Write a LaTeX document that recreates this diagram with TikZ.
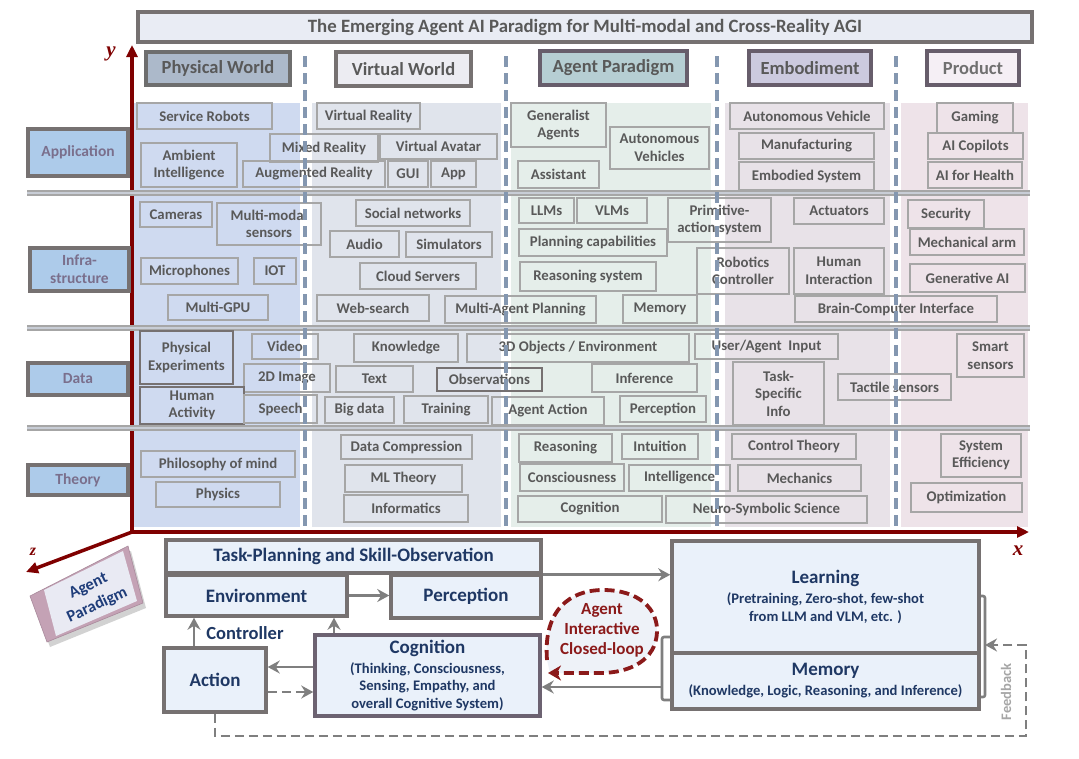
\documentclass[tikz,border=0pt]{standalone}
\usepackage{fontspec}
\setmainfont{Carlito}
\newfontfamily\axfont{Liberation Serif}
\usetikzlibrary{arrows.meta,shadows}
\definecolor{cAxis}{HTML}{7F0000}
\definecolor{titleFill}{HTML}{E9ECF4}
\definecolor{titleBorder}{HTML}{767171}
\definecolor{txtgray}{HTML}{595959}
\definecolor{itmgray}{HTML}{A6A6A6}
\definecolor{itmdark}{HTML}{767171}
\definecolor{pPhys}{HTML}{CFDAF0}
\definecolor{pVirt}{HTML}{E0E4EC}
\definecolor{pAgent}{HTML}{E5EEEA}
\definecolor{pEmb}{HTML}{E8E2E8}
\definecolor{pProd}{HTML}{EEE3E9}
\definecolor{hPhys}{HTML}{ACB9CA}
\definecolor{hVirt}{HTML}{ECECF2}
\definecolor{hAgent}{HTML}{B6CED3}
\definecolor{hEmb}{HTML}{CCCADF}
\definecolor{hProd}{HTML}{F5EFF5}
\definecolor{hBorderA}{HTML}{6E6E6E}
\definecolor{hBorderB}{HTML}{767171}
\definecolor{hBorderC}{HTML}{675D6B}
\definecolor{prodText}{HTML}{707070}
\definecolor{dashBlue}{HTML}{8497B0}
\definecolor{rowFill}{HTML}{ADCBEA}
\definecolor{rowBorder}{HTML}{767171}
\definecolor{rowText}{HTML}{7A6F8C}
\definecolor{sepGray}{HTML}{A6A6A6}
\definecolor{sepLight}{HTML}{C8CDD6}
\definecolor{fbFill}{HTML}{EAF1FA}
\definecolor{fbText}{HTML}{1F3864}
\definecolor{fbBorder}{HTML}{767171}
\definecolor{cogBorder}{HTML}{6C6271}
\definecolor{arrGray}{HTML}{7F7F7F}
\definecolor{fbGray}{HTML}{A6A6A6}
\definecolor{loopRed}{HTML}{8B1A1A}
\definecolor{loopFill}{HTML}{EEF2F8}
\definecolor{blockMauve}{HTML}{C4A2B5}
\definecolor{blockFace}{HTML}{E9EAF3}
\definecolor{blockEdge}{HTML}{A98A9C}
\definecolor{blockText}{HTML}{1F3D7A}
\newcommand\ib[7][]{\node[itm,#1,minimum width={(#5)-(#3)},minimum height={(#6)-(#4)}] (#2) at ({((#3)+(#5))/2},{((#4)+(#6))/2}) {#7};}
\newcommand\subf{\fontsize{14.6}{17.5}\selectfont}
\begin{document}
\begin{tikzpicture}[x=1pt,y=-1pt,
 itm/.style={draw=itmgray, line width=1.1pt, inner sep=0pt, align=center, text=txtgray, font=\bfseries\fontsize{14.8}{17.5}\selectfont},
 itmk/.style={draw=itmdark, line width=2.2pt},
 rowlab/.style={fill=rowFill, draw=rowBorder, line width=3.5pt, text=rowText, font=\bfseries\fontsize{15.5}{18}\selectfont},
 colhead/.style={line width=3.5pt, text=txtgray, font=\bfseries\fontsize{18.5}{20}\selectfont},
 titlebox/.style={fill=titleFill, draw=titleBorder, line width=3.5pt, text=txtgray, font=\bfseries\fontsize{18.8}{20}\selectfont},
 fb/.style={fill=fbFill, draw=fbBorder, line width=3.5pt, text=fbText, font=\bfseries\fontsize{19}{17.5}\selectfont},
 arr/.style={draw=arrGray, line width=2.6pt, -{Stealth[length=12pt,width=13pt,inset=4pt]}},
 brk/.style={draw=arrGray, line width=2.6pt, rounded corners=2pt},
 dsh/.style={dash pattern=on 9pt off 5pt},
 axis/.style={draw=cAxis, line width=4pt},
 axlab/.style={text=cAxis, font=\axfont\bfseries\itshape\fontsize{21}{21}\selectfont, inner sep=0pt},
 rowsep/.style={draw=sepGray, line width=2pt, double=sepLight, double distance=1.3pt},
 coldash/.style={draw=dashBlue, line width=4pt, dash pattern=on 11pt off 6pt},
 loopline/.style={draw=loopRed, line width=3.8pt, dash pattern=on 10pt off 5pt},
 looptext/.style={text=loopRed, font=\bfseries\fontsize{17}{20}\selectfont, align=center},
 ctrl/.style={text=fbText, font=\bfseries\fontsize{18.5}{20}\selectfont},
 fblab/.style={text=fbGray, font=\bfseries\fontsize{14.5}{16}\selectfont, rotate=90}]
\useasboundingbox (0,0) rectangle (1079,758);
\fill[white] (0,0) rectangle (1079,758);
% column panels
\fill[pPhys] (134,103) rectangle (300,527);
\fill[pVirt] (312,103) rectangle (501,527);
\fill[pAgent] (511,103) rectangle (711,527);
\fill[pEmb] (725,103) rectangle (890,527);
\fill[pProd] (901,103) rectangle (1028,527);
% title and headers
\ib[titlebox]{title}{138}{12}{1032}{42}{The Emerging Agent AI Paradigm for Multi-modal and Cross-Reality AGI}
\ib[colhead,fill=hPhys,draw=hBorderA]{hphys}{146}{52}{290}{85}{Physical World}
\ib[colhead,fill=hVirt,draw=hBorderB]{hvirt}{336}{52}{471}{86}{Virtual World}
\ib[colhead,fill=hAgent,draw=hBorderC]{hagent}{540}{51}{687}{85}{Agent Paradigm}
\ib[colhead,fill=hEmb,draw=hBorderC]{hemb}{749}{51}{871}{85}{Embodiment}
\ib[colhead,fill=hProd,draw=hBorderC,text=prodText]{hprod}{927}{51}{1019}{85}{Product}
% axes
\coordinate (org) at (132,532);
\coordinate (ytip) at (132,45);
\coordinate (xtip) at (1029,532);
\coordinate (ztip) at (26,572);
\draw[axis,-{Triangle[length=12pt,width=11pt]}] (org) -- (ytip);
\draw[axis,-{Triangle[length=12pt,width=11pt]}] (org) -- (xtip);
\draw[axis,line width=3.5pt,-{Triangle[length=12pt,width=11pt]}] (org) -- (ztip);
\node[axlab] (ylab) at (111,54) {y};
\node[axlab] (xlab) at (1018,551) {x};
\node[axlab,font=\axfont\bfseries\itshape\fontsize{16}{16}\selectfont] (zlab) at (33,552) {z};
% row separators
\foreach \yy in {193,328,428} \draw[rowsep] (27,\yy) -- (1030,\yy);
% row labels
\ib[rowlab]{rapp}{28}{129}{128}{176}{Application}
\ib[rowlab]{rinf}{30}{248}{129}{291}{Infra-\\structure}
\ib[rowlab]{rdata}{28}{363}{128}{395}{Data}
\ib[rowlab]{rtheory}{28}{465}{128}{495}{Theory}
% application row
\ib{servrob}{137}{103}{272}{129}{Service Robots}
\ib{ambint}{141}{143}{237}{187}{Ambient\\Intelligence}
\ib{mixed}{270}{134}{378}{162}{Mixed Reality}
\ib{vr}{317}{103}{420}{129}{Virtual Reality}
\ib{vavatar}{380}{134}{497}{159}{Virtual Avatar}
\ib{ar}{243}{161}{385}{187}{Augmented Reality}
\ib{gui}{388}{161}{428}{187}{GUI}
\ib{appl}{431}{161}{476}{187}{App}
\ib{genag}{511}{103}{606}{147}{Generalist\\Agents}
\ib{autoveh}{610}{127}{709}{169}{Autonomous\\Vehicles}
\ib{assist}{518}{161}{599}{188}{Assistant}
\ib{autovehicle}{730}{103}{884}{129}{Autonomous Vehicle}
\ib{manuf}{739}{133}{874}{159}{Manufacturing}
\ib{embsys}{739}{162}{874}{190}{Embodied System}
\ib{gaming}{937}{103}{1013}{133}{Gaming}
\ib{copilot}{928}{133}{1023}{159}{AI Copilots}
\ib{health}{928}{162}{1022}{188}{AI for Health}
% infrastructure row
\ib{cameras}{140}{202}{212}{227}{Cameras}
\ib{mmsens}{217}{203}{321}{245}{Multi-modal\\sensors}
\ib{micro}{141}{258}{238}{284}{Microphones}
\ib{iot}{254}{258}{296}{284}{IOT}
\ib{mgpu}{168}{295}{268}{320}{Multi-GPU}
\ib{social}{356}{200}{470}{226}{Social networks}
\ib{audio}{330}{231}{399}{257}{Audio}
\ib{simul}{406}{232}{492}{257}{Simulators}
\ib{cloud}{360}{263}{476}{289}{Cloud Servers}
\ib{websearch}{317}{295}{429}{321}{Web-search}
\ib{mapl}{445}{296}{596}{323}{Multi-Agent Planning}
\ib{llms}{519}{198}{574}{223}{LLMs}
\ib{vlms}{577}{198}{647}{223}{VLMs}
\ib{plancap}{519}{229}{667}{256}{Planning capabilities}
\ib{reassys}{520}{262}{656}{291}{Reasoning system}
\ib{memory}{623}{295}{697}{323}{Memory}
\ib{primact}{668}{198}{771}{242}{Primitive-\\action system}
\ib{robctrl}{697}{248}{789}{294}{Robotics\\Controller}
\ib{actuators}{794}{198}{884}{224}{Actuators}
\ib{humint}{794}{248}{884}{294}{Human\\Interaction}
\ib{bci}{795}{296}{997}{322}{Brain-Computer Interface}
\ib{security}{908}{200}{984}{228}{Security}
\ib{mecharm}{910}{229}{1024}{255}{Mechanical arm}
\ib{genai}{910}{264}{1025}{292}{Generative AI}
% data row
\ib[itmk]{physexp}{140}{331}{233}{384}{Physical\\Experiments}
\ib{video}{252}{334}{318}{359}{Video}
\ib{img2d}{244}{364}{330}{392}{2D Image}
\ib[itmk]{humact}{140}{387}{244}{424}{Human\\Activity}
\ib{speech}{244}{395}{317}{423}{Speech}
\ib{knowl}{354}{334}{458}{362}{Knowledge}
\ib{txt}{336}{366}{413}{392}{Text}
\ib[itmk]{obs}{437}{368}{542}{391}{Observations}
\ib{bigdata}{325}{397}{394}{423}{Big data}
\ib{training}{404}{396}{488}{423}{Training}
\ib{obj3d}{467}{334}{689}{362}{3D Objects / Environment}
\ib{inference}{592}{364}{697}{392}{Inference}
\ib{agact}{492}{397}{604}{425}{Agent Action}
\ib{percep}{620}{396}{706}{422}{Perception}
\ib{uainput}{695}{334}{838}{359}{User/Agent\ \ Input}
\ib{taskinfo}{733}{362}{824}{425}{Task-\\Specific\\Info}
\ib{tactile}{838}{374}{951}{400}{Tactile sensors}
\ib{smart}{957}{334}{1024}{377}{Smart\\sensors}
% theory row
\ib{philmind}{141}{451}{295}{477}{Philosophy of mind}
\ib{physics}{156}{482}{280}{507}{Physics}
\ib{datacomp}{341}{435}{472}{459}{Data Compression}
\ib{mltheory}{345}{465}{462}{492}{ML Theory}
\ib{informatics}{344}{495}{468}{522}{Informatics}
\ib{reasoning}{519}{434}{612}{462}{Reasoning}
\ib{intuition}{622}{434}{698}{459}{Intuition}
\ib{conscious}{520}{464}{624}{491}{Consciousness}
\ib{intell}{629}{465}{730}{491}{Intelligence}
\ib{cognition}{518}{496}{662}{522}{Cognition}
\ib{neurosym}{666}{496}{867}{523}{Neuro-Symbolic Science}
\ib{ctrltheory}{732}{434}{856}{459}{Control Theory}
\ib{mechanics}{738}{465}{861}{491}{Mechanics}
\ib{syseff}{941}{434}{1021}{477}{System\\Efficiency}
\ib{optim}{911}{483}{1022}{512}{Optimization}
% column dashed separators
\foreach \xx in {305,506,717,896} \draw[coldash] (\xx,56) -- (\xx,529);
% agent paradigm block
\fill[blockMauve, drop shadow={opacity=0.35,shadow xshift=3pt,shadow yshift=-5pt}] (30,596) -- (128,546) -- (143,603) -- (47,642) -- cycle;
\fill[blockFace] (44,590) -- (123,551) -- (137,601) -- (56,636) -- cycle;
\draw[blockEdge, line width=0.6pt] (30,596) -- (128,546) -- (143,603) -- (47,642) -- cycle;
\node[rotate=25, text=blockText, font=\bfseries\fontsize{16.5}{21}\selectfont, align=center, inner sep=0pt] (apblock) at (93,596) {Agent\\Paradigm};
% flow diagram
\ib[fb]{task}{166}{540}{541}{573}{Task-Planning and Skill-Observation}
\ib[fb]{env}{166}{575}{347}{616}{Environment}
\ib[fb]{perc}{391}{575}{541}{618}{Perception}
\ib[fb]{act}{164}{648}{266}{712}{Action}
\ib[fb,draw=cogBorder]{cog}{315}{635}{540}{716}{Cognition\\[2.5pt]\subf (Thinking, Consciousness,\\\subf Sensing, Empathy, and\\\subf overall Cognitive System)}
\ib[fb]{learn}{672}{541}{979}{653}{Learning\\[2.5pt]\subf (Pretraining, Zero-shot, few-shot\\\subf from LLM and VLM, etc. )}
\ib[fb]{mem}{672}{653}{979}{709}{Memory\\[2.5pt]\subf (Knowledge, Logic, Reasoning, and Inference)}
% loop
\fill[loopFill] (547,660) .. controls (543,610) and (570,590) .. (603,590) .. controls (640,590) and (658,610) .. (657,632) .. controls (656,660) and (630,673) .. (600,673) -- (550,673) -- cycle;
\draw[loopline, -{Stealth[length=13pt,width=15pt,inset=4pt]}] (547,660) .. controls (543,610) and (570,590) .. (603,590) .. controls (640,590) and (658,610) .. (657,632) .. controls (656,660) and (630,673) .. (600,673) -- (548,673);
\node[looptext] (loop) at (602,630) {Agent\\Interactive\\Closed-loop};
% helper coordinates
\coordinate (yA) at (0,667);
\coordinate (yB) at (0,692);
\coordinate (yC) at (0,687);
\coordinate (xC) at (194,0);
\coordinate (xD) at (334,0);
\coordinate (lb1) at (662,637);
\coordinate (lb2) at (662,700);
\coordinate (lbm) at (662,687);
\coordinate (rb1) at (985,596);
\coordinate (rb2) at (985,697);
\coordinate (fb1) at (215,736);
\coordinate (fb2) at (1026,736);
\coordinate (fb3) at (1026,645);
\coordinate (fbt) at (985,645);
% connectors
\draw[arr] (env.east) -- (env.east -| perc.west);
\draw[arr] (task.south east) -- (task.south east -| learn.west);
\draw[arr] (act.north -| xC) -- (env.south -| xC);
\draw[arr] (cog.north -| xD) -- (env.south -| xD);
\draw[arr] (cog.west |- yA) -- (act.east |- yA);
\draw[arr,dsh] (act.east |- yB) -- (cog.west |- yB);
\draw[brk] (lb1 -| learn.west) -- (lb1) -- (lb2) -- (lb2 -| mem.west);
\draw[arr] (lbm) -- (cog.east |- yC);
\draw[brk] (rb1 -| learn.east) -- (rb1) -- (rb2) -- (rb2 -| mem.east);
\draw[arr,dsh] (act.south -| fb1) -- (fb1) -- (fb2) -- (fb3) -- (fbt);
\node[ctrl] (ctrllab) at (245,633) {Controller};
\node[fblab] (fblabel) at (1006,692) {Feedback};
\end{tikzpicture}
\end{document}
